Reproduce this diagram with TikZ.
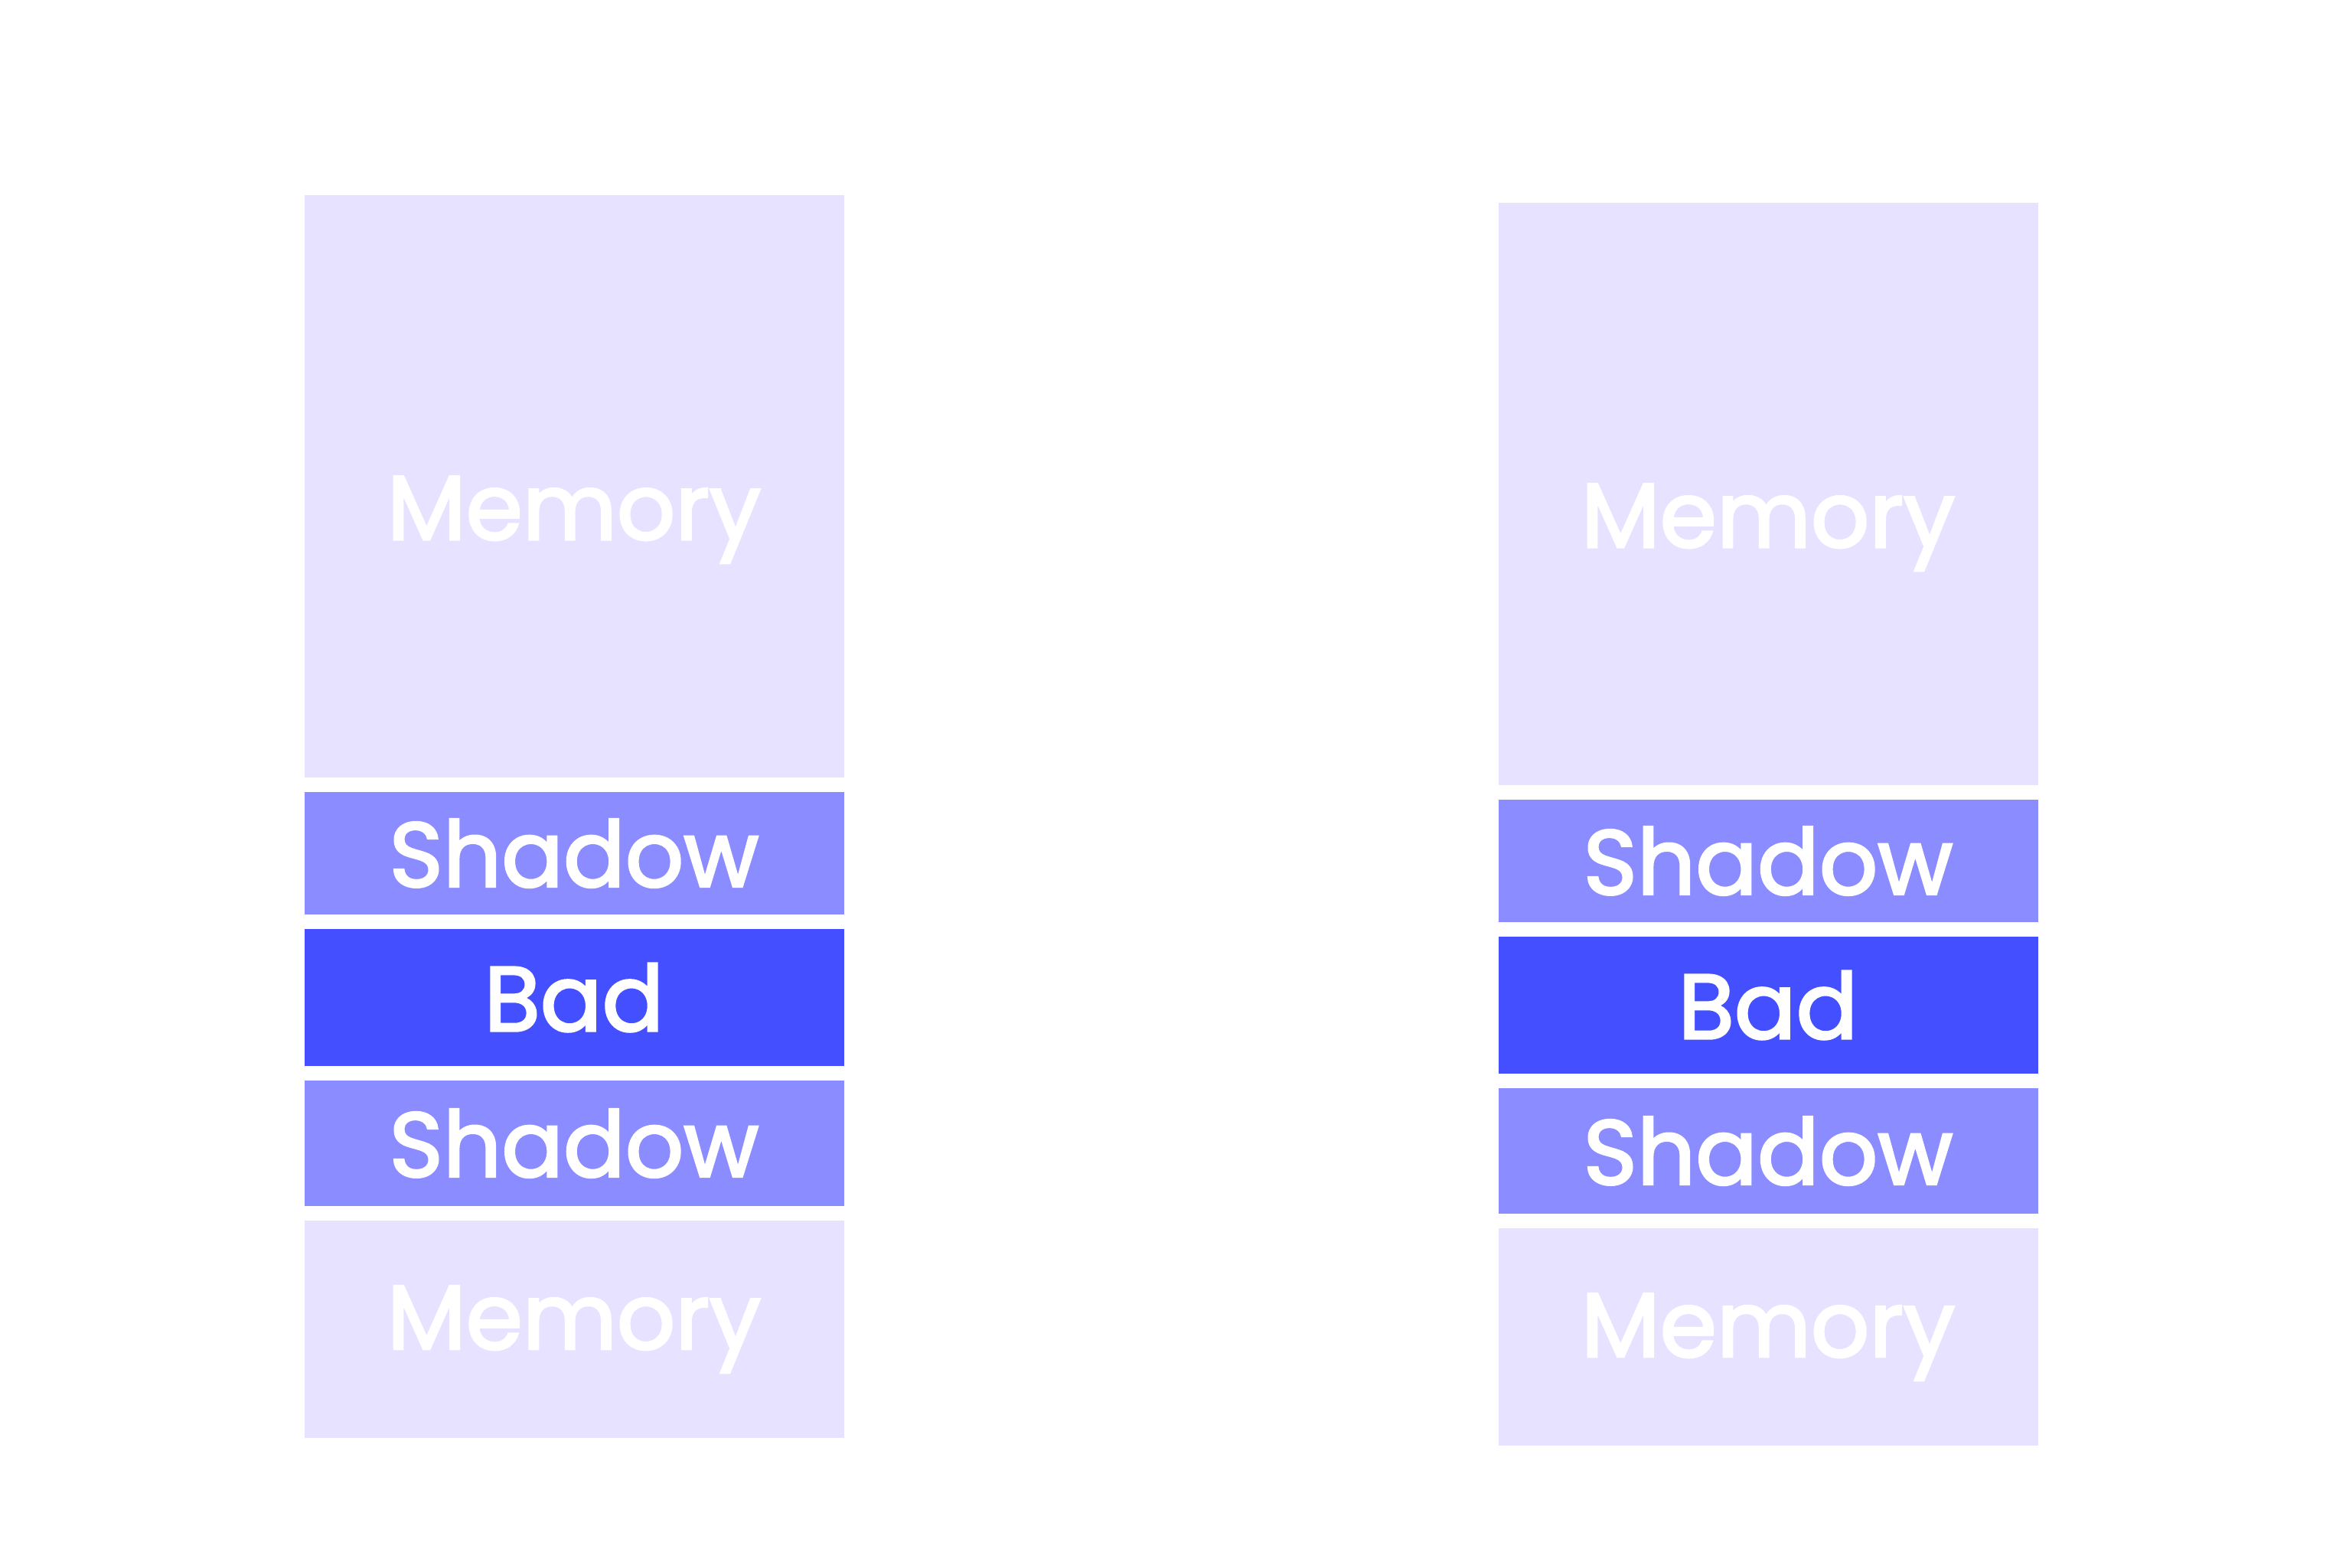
\documentclass[tikz,border=0pt]{standalone}
\usepackage{fontspec}
\setmainfont{Poppins}[FakeBold=2.5]
\usetikzlibrary{positioning}
\definecolor{memfill}{HTML}{E6E2FF}
\definecolor{shadowfill}{HTML}{8A8CFF}
\definecolor{badfill}{HTML}{4450FF}

\begin{document}
\begin{tikzpicture}[
  font=\fontsize{34}{40}\selectfont,
  node distance=1.9mm,
  block/.style    ={rectangle, minimum width=70.5mm, inner sep=0pt, outer sep=0pt, text=white},
  mem/.style      ={block, fill=memfill},
  bigmem/.style   ={mem, minimum height=76.1mm, text height=13.9mm, text depth=0pt},
  shadowblk/.style={block, fill=shadowfill},
  bad/.style      ={block, fill=badfill},
]
\useasboundingbox (0,0) rectangle (30.52,20.48);

% ---- left stack ----
\node[bigmem, anchor=north] (memL1) at (7.5,17.93) {Memory};
\node[shadowblk, minimum height=16mm,   below=of memL1] (shL1)  {Shadow};
\node[bad,       minimum height=17.9mm, below=of shL1]  (badL)  {Bad};
\node[shadowblk, minimum height=16.4mm, below=of badL]  (shL2)  {Shadow};
\node[mem,       minimum height=28.4mm, below=of shL2]  (memL2) {Memory};

% ---- right stack ----
\node[bigmem, anchor=north] (memR1) at (23.1,17.83) {Memory};
\node[shadowblk, minimum height=16mm,   below=of memR1] (shR1)  {Shadow};
\node[bad,       minimum height=17.9mm, below=of shR1]  (badR)  {Bad};
\node[shadowblk, minimum height=16.4mm, below=of badR]  (shR2)  {Shadow};
\node[mem,       minimum height=28.4mm, below=of shR2]  (memR2) {Memory};

\end{tikzpicture}
\end{document}
